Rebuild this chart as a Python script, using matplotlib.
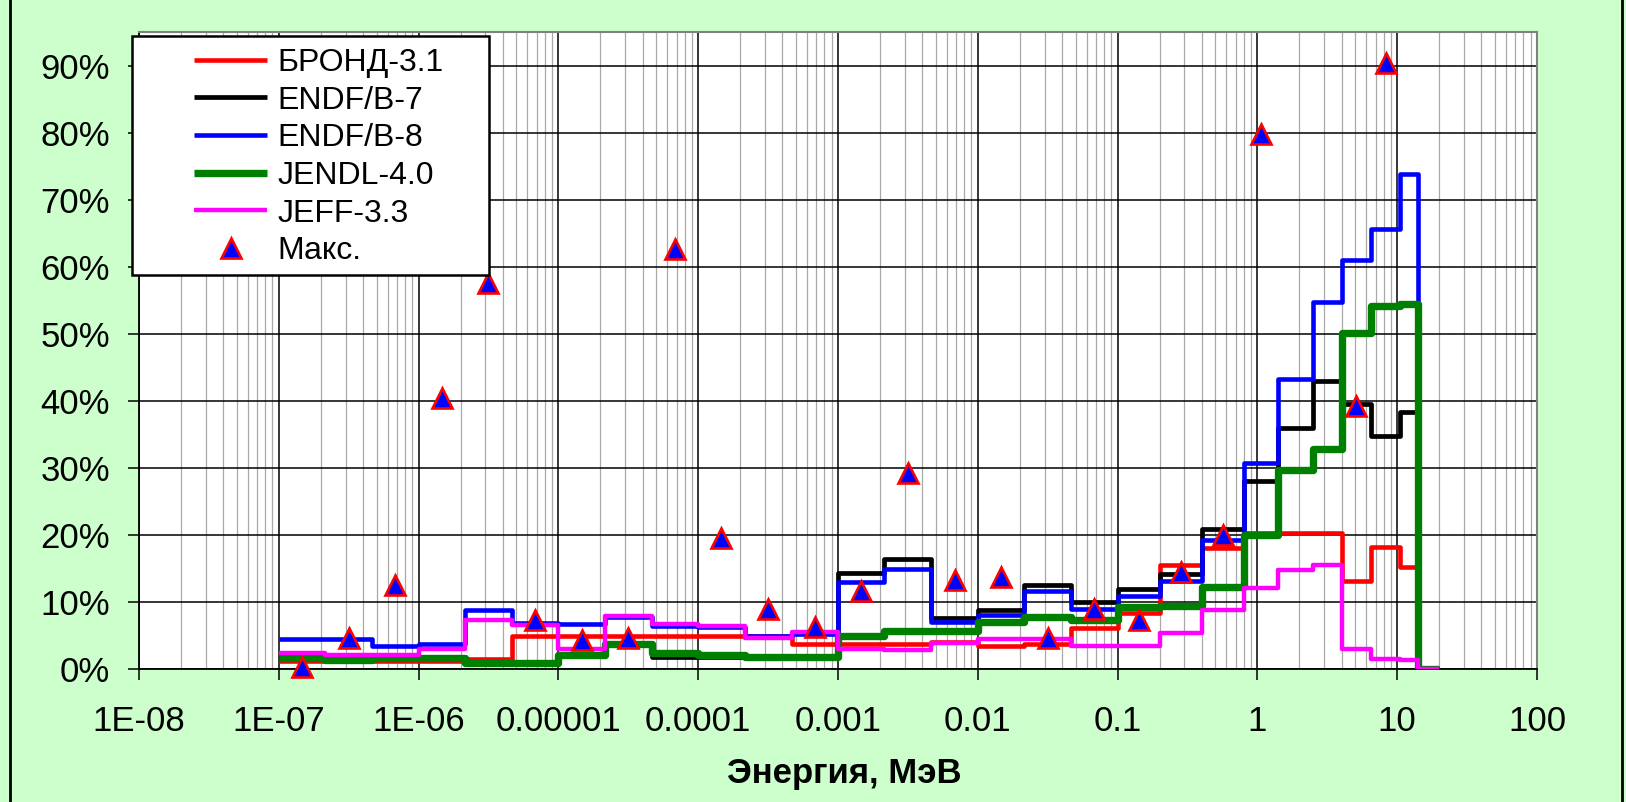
import numpy as np
import matplotlib
matplotlib.use('Agg')
import matplotlib.pyplot as plt
from matplotlib.ticker import FixedLocator, FixedFormatter, LogLocator, NullFormatter, FuncFormatter
from matplotlib.lines import Line2D
from matplotlib.patches import Rectangle

plt.rcParams['font.family'] = ['Liberation Sans', 'DejaVu Sans']

# ---- data ----
edges = [1e-7, 2.15e-7, 4.65e-7, 1e-6, 2.15e-6, 4.65e-6, 1e-5, 2.15e-5, 4.65e-5,
         1e-4, 2.15e-4, 4.65e-4, 1e-3, 2.15e-3, 4.65e-3, 1e-2, 2.15e-2, 4.65e-2,
         0.1, 0.2, 0.4, 0.8, 1.4, 2.5, 4.0, 6.5, 10.5, 14.0, 20.0]

brond = [1.2, 1.2, 1.2, 1.2, 1.5, 4.9, 4.9, 4.9, 4.9, 5.0, 4.9, 3.7, 3.7, 3.8,
         4.1, 3.5, 3.8, 6.1, 8.4, 15.5, 18.1, 20.3, 20.3, 20.3, 13.2, 18.3, 15.2, 0.0]
endf7 = [1.7, 1.4, 1.7, 1.7, 1.0, 1.0, 2.1, 3.7, 1.9, 1.8, 1.8, 1.8, 14.3, 16.5,
         7.6, 8.8, 12.6, 10.1, 12.0, 14.2, 20.9, 28.0, 36.0, 43.0, 39.5, 34.8, 38.3, 0.0]
endf8 = [4.5, 4.5, 3.4, 3.7, 8.9, 6.9, 6.8, 7.8, 6.4, 6.3, 5.0, 5.3, 13.0, 15.0,
         7.0, 8.1, 11.6, 9.0, 10.9, 13.2, 19.2, 30.8, 43.3, 54.7, 61.0, 65.7, 73.9, 0.0]
jendl = [1.7, 1.4, 1.7, 1.7, 1.0, 1.0, 2.1, 3.7, 2.4, 2.2, 1.8, 1.8, 5.0, 5.7,
         5.7, 7.0, 7.8, 7.3, 9.3, 9.4, 12.3, 20.0, 29.7, 32.8, 50.1, 54.1, 54.5, 0.0]
jeff = [2.5, 2.2, 2.2, 3.1, 7.3, 6.6, 3.0, 8.0, 6.7, 6.5, 4.6, 5.6, 3.0, 2.9,
        3.9, 4.5, 4.5, 3.4, 3.4, 5.4, 8.9, 12.1, 14.8, 15.6, 3.0, 1.5, 1.4, 0.0]
maks = [0.4, 4.7, 12.5, 40.4, 57.6, 7.4, 4.3, 4.7, 62.7, 19.6, 9.0, 6.3, 11.7, 29.2,
        13.3, 13.7, 4.7, 9.0, 7.4, 14.5, 20.0, 79.8, np.nan, np.nan, 39.2, 90.4, np.nan, np.nan]

series_names = ['БРОНД-3.1', 'ENDF/B-7', 'ENDF/B-8', 'JENDL-4.0', 'JEFF-3.3']
max_name = 'Макс.'
xtick_values = [1e-8, 1e-7, 1e-6, 1e-5, 1e-4, 1e-3, 1e-2, 1e-1, 1, 10, 100]
xtick_labels = ['1E-08', '1E-07', '1E-06', '0.00001', '0.0001', '0.001', '0.01', '0.1', '1', '10', '100']
ytick_values = [0, 10, 20, 30, 40, 50, 60, 70, 80, 90]
xlabel = 'Энергия, МэВ'

# ---- figure ----
W, H = 1626, 802
fig = plt.figure(figsize=(W / 100, H / 100), dpi=100, facecolor='#CCFFCC')
L, R, T, B = 139, 1537, 32, 669.3
ax = fig.add_axes([L / W, 1 - B / H, (R - L) / W, (B - T) / H])
ax.set_facecolor('white')

edges_a = np.array(edges)
colors = ['#FF0000', '#000000', '#0000FF', '#008000', '#FF00FF']
widths = [3.3, 3.4, 3.3, 5.3, 3.2]
for vals, name, c, lw in zip([brond, endf7, endf8, jendl, jeff], series_names, colors, widths):
    v = np.array(vals)
    ax.step(edges_a, np.append(v, v[-1]), where='post', color=c, lw=lw, label=name,
            solid_joinstyle='round', solid_capstyle='butt', zorder=3)

centers = np.sqrt(edges_a[:-1] * edges_a[1:])
ax.plot(centers, maks, ls='none', marker='^', ms=15, mfc='#0000FF', mec='#FF0000',
        mew=1.9, clip_on=False, zorder=5, label=max_name)

ax.set_xscale('log')
ax.set_xlim(1e-8, 100)
ax.set_ylim(0, 95)
ax.xaxis.set_major_locator(FixedLocator(xtick_values))
ax.xaxis.set_major_formatter(FixedFormatter(xtick_labels))
ax.xaxis.set_minor_locator(LogLocator(base=10, subs=np.arange(2, 10), numticks=100))
ax.xaxis.set_minor_formatter(NullFormatter())
ax.yaxis.set_major_locator(FixedLocator(ytick_values))
ax.yaxis.set_major_formatter(FuncFormatter(lambda v, p: f'{v:.0f}%'))

ax.set_axisbelow(True)
ax.grid(which='major', axis='both', color='black', lw=1.1)
ax.grid(which='minor', axis='x', color='#A8A8A8', lw=0.9)

ax.tick_params(axis='both', which='major', direction='out', length=8, width=1.1,
               labelsize=25, color='black')
ax.tick_params(axis='x', which='major', pad=18)
ax.tick_params(axis='y', which='major', pad=13)
ax.tick_params(axis='x', which='minor', length=0)

for s in ['left', 'bottom']:
    ax.spines[s].set_color('black')
    ax.spines[s].set_linewidth(1.3)
for s in ['top', 'right']:
    ax.spines[s].set_color('#808080')
    ax.spines[s].set_linewidth(1.5)

ax.set_xlabel(xlabel, fontsize=25, fontweight='bold')
ax.xaxis.set_label_coords((844 - L) / (R - L), -(773 - B) / (B - T))
ax.xaxis.label.set_va('center')

# legend box
ax.add_patch(Rectangle((132 / W, 1 - 275 / H), (488.6 - 132) / W, (275 - 36) / H,
                       transform=fig.transFigure, fc='white', ec='black', lw=1.8,
                       clip_on=False, zorder=9))
leg = ax.legend(loc='upper left', bbox_to_anchor=(194 / W, 1 - 48 / H),
                bbox_transform=fig.transFigure, frameon=False, fontsize=23,
                handlelength=2.3, handletextpad=0.3, labelspacing=0.24,
                borderpad=0, borderaxespad=0, numpoints=1)
leg.set_zorder(10)

# outer chart border (left and right)
for xp in [10, 1622]:
    fig.add_artist(Line2D([xp / W, xp / W], [0, 1], transform=fig.transFigure,
                          color='black', lw=2.0))

fig.savefig('out.png', dpi=100, facecolor=fig.get_facecolor())
